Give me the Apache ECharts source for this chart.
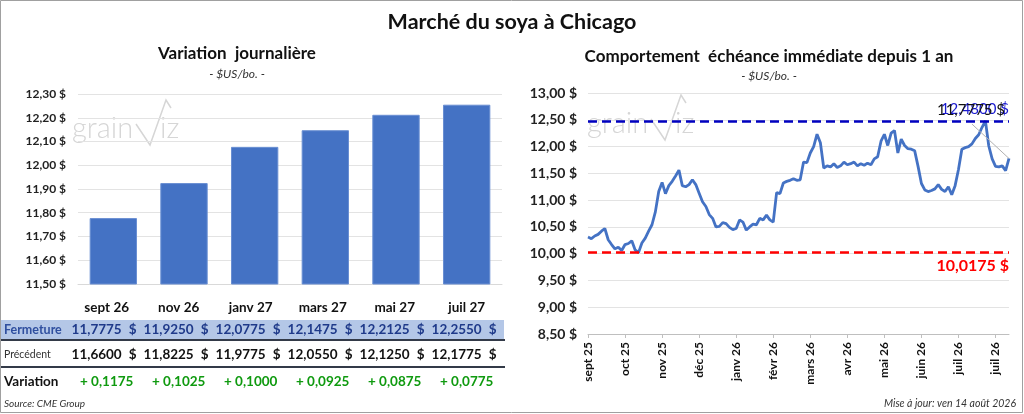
<!DOCTYPE html>
<html>
<head>
<meta charset="utf-8">
<script src="https://cdn.jsdelivr.net/npm/echarts@6/dist/echarts.min.js"></script>
<style>
html,body{margin:0;padding:0;background:#fff}
#main{width:1024px;height:414px}
</style>
</head>
<body>
<div id="main"></div>
<script>
// contrats (graphique de gauche + tableau)
var contracts = ['sept 26', 'nov 26', 'janv 27', 'mars 27', 'mai 27', 'juil 27'];
var closing   = [11.7775, 11.9250, 12.0775, 12.1475, 12.2125, 12.2550];
var previous  = [11.6600, 11.8225, 11.9775, 12.0550, 12.1250, 12.1775];
var change    = [0.1175, 0.1025, 0.1000, 0.0925, 0.0875, 0.0775];

var nearby = [10.31,10.28,10.33,10.36,10.42,10.47,10.26,10.17,10.09,10.12,
  10.06,10.17,10.19,10.24,10.07,10.02,10.20,10.29,10.42,10.54,
  10.78,11.16,11.33,11.12,11.27,11.35,11.45,11.56,11.27,11.25,
  11.29,11.38,11.29,11.13,10.97,10.88,10.73,10.66,10.50,10.51,
  10.58,10.56,10.49,10.45,10.47,10.63,10.59,10.44,10.50,10.55,
  10.54,10.66,10.63,10.72,10.63,10.59,11.14,11.12,11.32,11.35,
  11.37,11.40,11.37,11.38,11.71,11.70,11.88,12.00,12.23,12.07,
  11.60,11.64,11.62,11.68,11.61,11.64,11.71,11.66,11.68,11.71,
  11.64,11.68,11.65,11.69,11.66,11.77,11.81,12.10,12.23,12.02,
  12.25,12.30,11.88,12.14,12.02,11.96,11.95,11.92,11.63,11.31,
  11.19,11.16,11.18,11.21,11.29,11.20,11.16,11.25,11.10,11.27,
  11.57,11.95,11.98,12.00,12.05,12.15,12.22,12.36,12.48,12.01,
  11.77,11.63,11.62,11.64,11.55,11.7775];
var monthLabels = ['sept 25','oct 25','nov 25','déc 25','janv 26','févr 26',
  'mars 26','avr 26','mai 26','juin 26','juil 26','juil 26'];
var labelEvery = 11;
var maxVal = 12.48;
var minVal = 10.0175;
var lastVal = nearby[nearby.length - 1];

var FONT = 'Lato, "Open Sans", sans-serif';
function fr(v, d) { return v.toFixed(d).replace('.', ','); }

var dayCats = nearby.map(function (v, i) {
  return i % labelEvery === 0 ? monthLabels[i / labelEvery] : '';
});

var myChart = echarts.init(document.getElementById('main'));

// logo grainviz en filigrane
function logo(x, y) {
  return [
    { type: 'text', left: x, top: y, silent: true, z: 0,
      style: { text: 'grain', fill: '#d6d6d6', font: '300 29px ' + FONT } },
    { type: 'polyline', silent: true, z: 0,
      shape: { points: [[x + 64, y + 10], [x + 78, y + 31], [x + 94, y - 14], [x + 99, y - 6]] },
      style: { stroke: '#d6d6d6', lineWidth: 1.5, fill: null } },
    { type: 'text', left: x + 88, top: y, silent: true, z: 0,
      style: { text: 'iz', fill: '#d6d6d6', font: '300 29px ' + FONT } }
  ];
}

var graphics = [
  { type: 'rect', shape: { x: 0.5, y: 0.5, width: 1022, height: 412 },
    style: { fill: null, stroke: '#a0a0a0', lineWidth: 1 } },
  { type: 'text', x: 512, y: 22, style: { text: 'Marché du soya à Chicago', align: 'center',
    verticalAlign: 'middle', font: 'bold 21.5px ' + FONT, fill: '#111' } },
  { type: 'text', x: 237, y: 54, style: { text: 'Variation  journalière', align: 'center',
    verticalAlign: 'middle', font: 'bold 17px ' + FONT, fill: '#111' } },
  { type: 'text', x: 237, y: 74, style: { text: '- $US/bo. -', align: 'center',
    verticalAlign: 'middle', font: 'italic 12px ' + FONT, fill: '#333' } },
  { type: 'text', x: 769, y: 57, style: { text: 'Comportement  échéance immédiate depuis 1 an', align: 'center',
    verticalAlign: 'middle', font: 'bold 17px ' + FONT, fill: '#111' } },
  { type: 'text', x: 769, y: 76, style: { text: '- $US/bo. -', align: 'center',
    verticalAlign: 'middle', font: 'italic 12px ' + FONT, fill: '#333' } },
  { type: 'text', x: 1016, y: 404, style: { text: 'Mise à jour: ven 14 août 2026', align: 'right',
    verticalAlign: 'middle', font: 'italic 10.5px ' + FONT, fill: '#333' } },
  { type: 'text', x: 4, y: 404, style: { text: 'Source: CME Group', align: 'left',
    verticalAlign: 'middle', font: 'italic 10px ' + FONT, fill: '#333' } },
  // tableau
  { type: 'rect', shape: { x: 1, y: 320, width: 503, height: 19 }, style: { fill: '#b4c7e7' } },
  { type: 'line', shape: { x1: 1, y1: 340, x2: 505, y2: 340 }, style: { stroke: '#333a48', lineWidth: 2 } },
  { type: 'line', shape: { x1: 1, y1: 367, x2: 505, y2: 367 }, style: { stroke: '#333a48', lineWidth: 2 } },
  { type: 'text', x: 4, y: 330, style: { text: 'Fermeture', verticalAlign: 'middle',
    font: 'bold 12.5px ' + FONT, fill: '#2f4f9f' } },
  { type: 'text', x: 4, y: 355, style: { text: 'Précédent', verticalAlign: 'middle',
    font: '10.5px ' + FONT, fill: '#333' } },
  { type: 'text', x: 4, y: 382, style: { text: 'Variation', verticalAlign: 'middle',
    font: 'bold 13.5px ' + FONT, fill: '#111' } }
];
graphics = graphics.concat(logo(72, 114), logo(587, 109));

contracts.forEach(function (c, k) {
  var cx = 106.7 + 72 * k;
  graphics.push(
    { type: 'text', x: cx, y: 308, style: { text: c, align: 'center', verticalAlign: 'middle',
      font: 'bold 13.5px ' + FONT, fill: '#111' } },
    { type: 'text', x: cx + 15, y: 330, style: { text: fr(closing[k], 4), align: 'right', verticalAlign: 'middle',
      font: 'bold 13.5px ' + FONT, fill: '#1f3a8a' } },
    { type: 'text', x: cx + 26, y: 330, style: { text: '$', align: 'center', verticalAlign: 'middle',
      font: 'bold 13.5px ' + FONT, fill: '#1f3a8a' } },
    { type: 'text', x: cx + 15, y: 355, style: { text: fr(previous[k], 4), align: 'right', verticalAlign: 'middle',
      font: 'bold 13.5px ' + FONT, fill: '#111' } },
    { type: 'text', x: cx + 26, y: 355, style: { text: '$', align: 'center', verticalAlign: 'middle',
      font: 'bold 13.5px ' + FONT, fill: '#111' } },
    { type: 'text', x: cx, y: 382, style: { text: '+ ' + fr(change[k], 4), align: 'center', verticalAlign: 'middle',
      font: 'bold 13.5px ' + FONT, fill: '#0f9a0f' } }
  );
});

var option = {
  animation: false,
  textStyle: { fontFamily: FONT },
  graphic: graphics,
  grid: [
    { left: 78, right: 522, top: 94, bottom: 130 },
    { left: 588, right: 15, top: 93, bottom: 80 }
  ],
  xAxis: [
    { gridIndex: 0, type: 'category', data: contracts,
      axisLine: { lineStyle: { color: '#d9d9d9' } }, axisTick: { show: false },
      axisLabel: { show: false } },
    { gridIndex: 1, type: 'category', data: dayCats, boundaryGap: false,
      axisLine: { lineStyle: { color: '#bfbfbf' } },
      axisTick: { interval: labelEvery - 1, length: 4, lineStyle: { color: '#bfbfbf' } },
      axisLabel: { interval: labelEvery - 1, rotate: 90, fontSize: 12, fontWeight: 'bold',
        color: '#111', margin: 8 } }
  ],
  yAxis: [
    { gridIndex: 0, type: 'value', min: 11.5, max: 12.3, interval: 0.1,
      axisLine: { show: false }, axisTick: { show: false },
      splitLine: { lineStyle: { color: '#e3e3e3' } },
      axisLabel: { fontSize: 12, fontWeight: 'bold', color: '#222', margin: 12,
        formatter: function (v) { return fr(v, 2) + ' $'; } } },
    { gridIndex: 1, type: 'value', min: 8.5, max: 13, interval: 0.5,
      axisLine: { show: false }, axisTick: { show: false },
      splitLine: { lineStyle: { color: '#e3e3e3' } },
      axisLabel: { fontSize: 14, fontWeight: 'bold', color: '#222', margin: 11,
        formatter: function (v) { return fr(v, 2) + ' $'; } } }
  ],
  series: [
    { type: 'bar', xAxisIndex: 0, yAxisIndex: 0, data: closing, barCategoryGap: '33%',
      itemStyle: { color: '#4472c4', borderColor: '#6a8fd3', borderWidth: 1 } },
    { type: 'line', xAxisIndex: 1, yAxisIndex: 1, data: nearby, showSymbol: false,
      lineStyle: { color: '#4472c4', width: 2.8 },
      markLine: {
        silent: true, symbol: 'none',
        data: [
          { yAxis: maxVal, lineStyle: { color: '#0000c0', type: [9, 5], width: 2.5 },
            label: { position: 'insideEndTop', formatter: fr(maxVal, 4) + ' $', color: '#1a1ad0',
              fontSize: 15, distance: [0, 4] } },
          { yAxis: minVal, lineStyle: { color: '#ff0000', type: [9, 5], width: 2.5 },
            label: { position: 'insideEndBottom', formatter: fr(minVal, 4) + ' $', color: '#ff0000',
              fontSize: 16, fontWeight: 'bold', distance: [0, 5] } },
          [ { coord: [114, 12.42], lineStyle: { color: '#b0b0b0', type: 'solid', width: 1 }, label: { show: false } },
            { coord: [nearby.length - 1, lastVal] } ]
        ]
      },
      markPoint: {
        silent: true, symbolSize: 1, itemStyle: { color: 'rgba(0,0,0,0)' },
        data: [{ coord: [nearby.length - 1, lastVal],
          label: { show: true, formatter: fr(lastVal, 4) + ' $', color: '#111', fontSize: 15,
            offset: [-38, -48] } }]
      }
    }
  ]
};

myChart.setOption(option);
</script>
</body>
</html>
